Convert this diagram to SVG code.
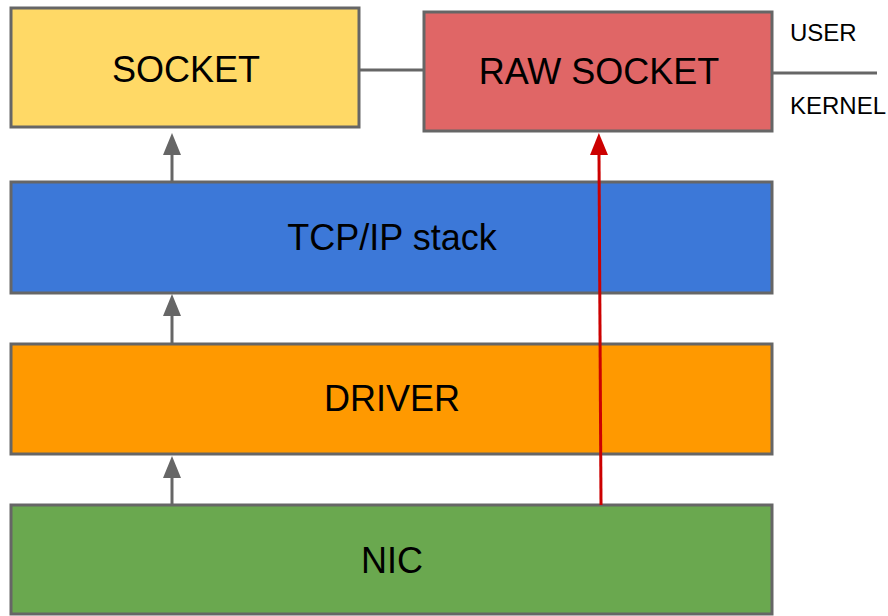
<svg xmlns="http://www.w3.org/2000/svg" width="888" height="616" viewBox="0 0 888 616">
<style>
.box{stroke:#666666;stroke-width:3}
.lbl{font-family:"Liberation Sans",Arial,sans-serif;font-size:36px;fill:#000;text-anchor:middle}
.side{font-family:"Liberation Sans",Arial,sans-serif;font-size:24px;fill:#000}
.gray{stroke:#666666;stroke-width:3;fill:none}
.red{stroke:#cc0000;stroke-width:3;fill:none}
</style>
<defs>
<marker id="ag" markerUnits="userSpaceOnUse" viewBox="0 0 22 18" refX="0" refY="9" markerWidth="22" markerHeight="18" orient="auto">
<path d="M0 0 L22 9 L0 18 Z" fill="#666666"/>
</marker>
<marker id="ar" markerUnits="userSpaceOnUse" viewBox="0 0 22 18" refX="0" refY="9" markerWidth="22" markerHeight="18" orient="auto">
<path d="M0 0 L22 9 L0 18 Z" fill="#cc0000"/>
</marker>
</defs>
<rect width="888" height="616" fill="#ffffff"/>
<g id="socket"><rect class="box" x="11" y="8" width="348" height="119" fill="#ffd966"/><text class="lbl" x="186" y="82">SOCKET</text></g>
<g id="raw-socket"><rect class="box" x="424" y="12" width="348" height="119" fill="#e06666"/><text class="lbl" x="599" y="84">RAW SOCKET</text></g>
<g id="tcpip"><rect class="box" x="11" y="182" width="761" height="111" fill="#3c78d8"/><text class="lbl" x="392" y="250">TCP/IP stack</text></g>
<g id="driver"><rect class="box" x="11" y="344" width="761" height="110" fill="#ff9900"/><text class="lbl" x="392" y="411">DRIVER</text></g>
<g id="nic"><rect class="box" x="11" y="505" width="761" height="109" fill="#6aa84f"/><text class="lbl" x="392" y="573">NIC</text></g>
<g id="labels"><text class="side" x="790" y="41">USER</text><text class="side" x="790" y="114">KERNEL</text></g>
<g id="connectors">
<line class="gray" x1="359" y1="70" x2="424" y2="70"/>
<line class="gray" x1="772" y1="73" x2="877" y2="73"/>
<line class="gray" x1="172" y1="182" x2="172" y2="155" marker-end="url(#ag)"/>
<line class="gray" x1="172" y1="344" x2="172" y2="316" marker-end="url(#ag)"/>
<line class="gray" x1="172" y1="505" x2="172" y2="478" marker-end="url(#ag)"/>
<line class="red" x1="601" y1="505" x2="599" y2="155" marker-end="url(#ar)"/>
</g>
</svg>
